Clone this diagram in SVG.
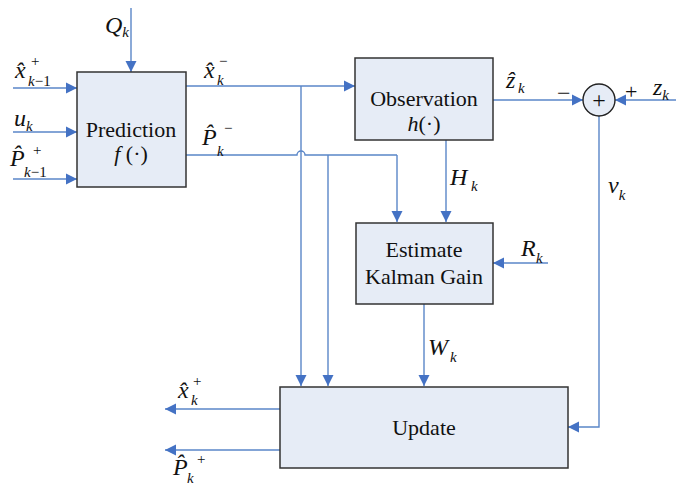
<svg xmlns="http://www.w3.org/2000/svg" width="676" height="485" viewBox="0 0 676 485">
<defs>
<marker id="ah" markerUnits="userSpaceOnUse" markerWidth="12" markerHeight="12" refX="11" refY="6" orient="auto">
<path d="M0,0.5 L11,6 L0,11.5 Z" fill="#4472c4"/>
</marker>
</defs>
<style>
.box{fill:#e6ecf6;stroke:#333;stroke-width:1.5}
.ln{fill:none;stroke:#5a86c8;stroke-width:1.4}
.arr{marker-end:url(#ah)}
text{font-family:"Liberation Serif","Times New Roman",serif;fill:#111}
.t{font-size:22px;text-anchor:middle}
.m{font-style:italic;font-size:24px}
.s{font-size:15px}
.i{font-style:italic}
</style>
<g id="connectors">
<path class="ln arr" d="M131,8 V72"/>
<path class="ln arr" d="M13,88 H77"/>
<path class="ln arr" d="M13,132 H77"/>
<path class="ln arr" d="M13,179 H77"/>
<path class="ln arr" d="M186,86 H355"/>
<path class="ln arr" d="M301,86 V386"/>
<path class="ln" d="M186,155 H297 A4,4 0 0 1 305,155 H397"/>
<path class="ln arr" d="M397,155 V222"/>
<path class="ln arr" d="M328,155 V386"/>
<path class="ln arr" d="M446,140 V222"/>
<path class="ln arr" d="M548,263 H493"/>
<path class="ln arr" d="M424,304 V386"/>
<path class="ln arr" d="M493,100 H583"/>
<path class="ln arr" d="M676,100 H615"/>
<path class="ln arr" d="M599,116 V427 H568"/>
<path class="ln arr" d="M280,409 H165"/>
<path class="ln arr" d="M280,450 H165"/>
</g>
<g id="prediction">
<rect class="box" x="77" y="72" width="109" height="115"/>
<text class="t" x="131" y="137">Prediction</text>
<text class="t" x="131" y="161"><tspan class="i">f</tspan> (·)</text>
</g>
<g id="observation">
<rect class="box" x="355" y="58" width="138" height="82"/>
<text class="t" x="424" y="106">Observation</text>
<text class="t" x="424" y="131"><tspan class="i">h</tspan>(·)</text>
</g>
<g id="estimate">
<rect class="box" x="356" y="223" width="137" height="81"/>
<text class="t" x="424" y="257">Estimate</text>
<text class="t" x="424" y="284">Kalman Gain</text>
</g>
<g id="update">
<rect class="box" x="280" y="387" width="288" height="81"/>
<text class="t" x="424" y="435">Update</text>
</g>
<g id="sum">
<circle cx="599" cy="100" r="16" fill="#e6ecf6" stroke="#222" stroke-width="1.4"/>
<text x="599" y="108" font-size="24" text-anchor="middle">+</text>
</g>
<g id="labels">
<text class="m" x="105" y="33">Q<tspan class="s" dy="4">k</tspan></text>
<text class="m" x="15" y="78">x̂<tspan class="s" font-style="normal" x="31" y="66">+</tspan><tspan class="s" x="28" y="86">k</tspan><tspan class="s" font-style="normal">−1</tspan></text>
<text class="m" x="14" y="126">u<tspan class="s" dy="5">k</tspan></text>
<text class="m" x="10" y="166">P̂<tspan class="s" font-style="normal" x="33" y="155">+</tspan><tspan class="s" x="24" y="177">k</tspan><tspan class="s" font-style="normal">−1</tspan></text>
<text class="m" x="204" y="78">x̂<tspan class="s" font-style="normal" x="219" y="66">−</tspan><tspan class="s" x="217" y="85">k</tspan></text>
<text class="m" x="202" y="145">P̂<tspan class="s" font-style="normal" x="224" y="133">−</tspan></text>
<text class="s i" x="217" y="156">k</text>
<text class="m" x="506" y="88">ẑ<tspan class="s" x="518" y="93">k</tspan></text>
<text x="557" y="101" font-size="24">−</text>
<text x="625" y="99" font-size="22">+</text>
<text class="m" x="653" y="95">z<tspan class="s" dy="5">k</tspan></text>
<text class="m" x="450" y="185">H<tspan class="s" x="471" dy="6">k</tspan></text>
<text class="m" x="608" y="193">v<tspan class="s" dy="7">k</tspan></text>
<text class="m" x="521" y="256">R<tspan class="s" x="536" dy="7">k</tspan></text>
<text class="m" x="428" y="355">W<tspan class="s" x="450" dy="7">k</tspan></text>
<text class="m" x="178" y="398">x̂<tspan class="s" font-style="normal" x="193" y="386">+</tspan><tspan class="s" x="191" y="405">k</tspan></text>
<text class="m" x="173" y="475">P̂<tspan class="s" font-style="normal" x="197" y="464">+</tspan><tspan class="s" x="187" y="483">k</tspan></text>
</g>
</svg>
